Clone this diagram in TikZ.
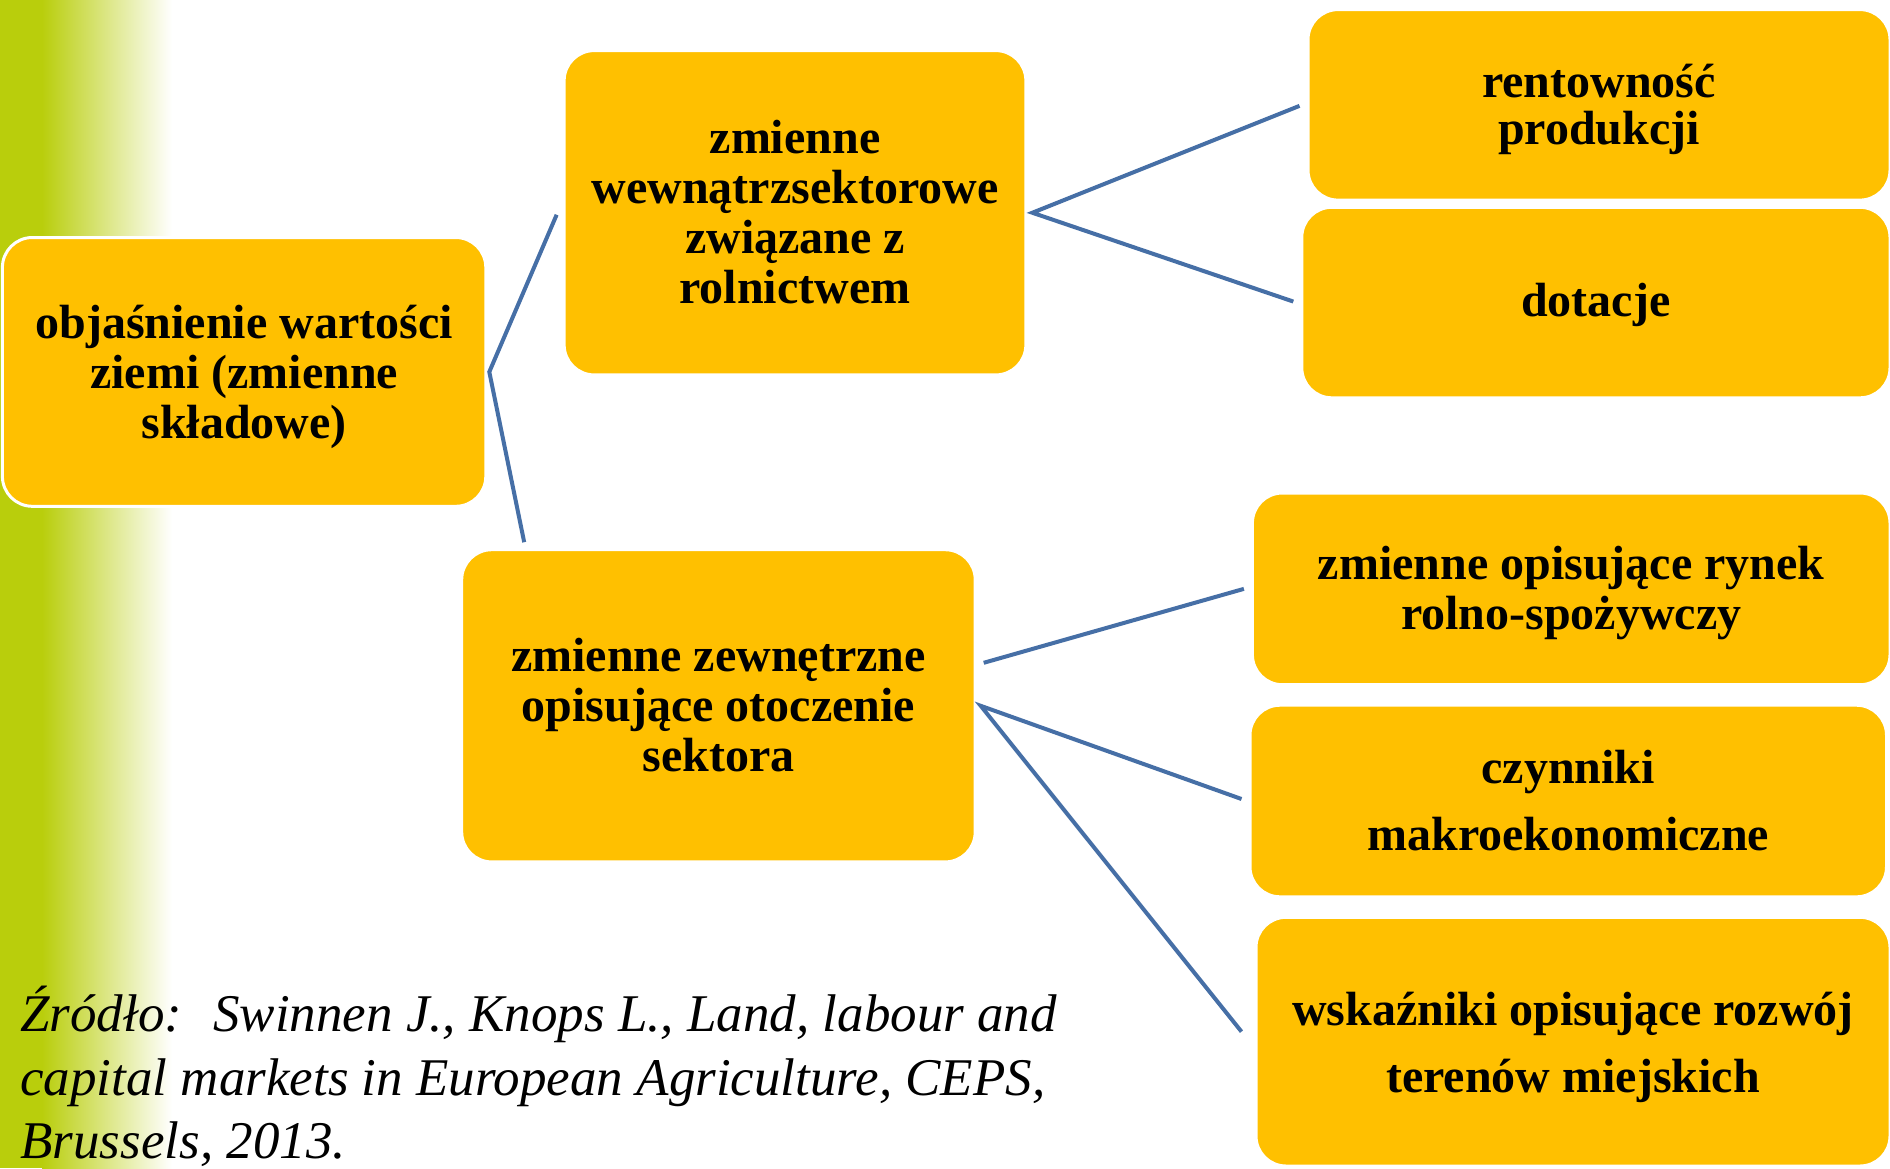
\documentclass[tikz,border=0pt]{standalone}
\usepackage{fontspec}
\setmainfont{Liberation Serif}
\usetikzlibrary{calc}
\definecolor{gold}{RGB}{255,192,0}
\definecolor{leaf}{RGB}{185,206,12}
\definecolor{conn}{RGB}{70,111,166}
\begin{document}
\begin{tikzpicture}[x=0.5pt,y=-0.5pt,
  card/.style={draw=white, line width=1.5pt, fill=gold, rounded corners=15pt, inner sep=0pt},
  cardtext/.style={inner sep=0pt, align=center, font=\bfseries\fontsize{24}{25}\selectfont},
  link/.style={draw=conn, line width=2pt, line join=miter},
  srctext/.style={anchor=base west, inner sep=0pt, font=\itshape\fontsize{26.5}{32}\selectfont}]
\useasboundingbox (0,0) rectangle (1890,1168);
\fill[white] (0,0) rectangle (1890,1168);
\fill[leaf] (0,0) rectangle (42,1168);
\shade[left color=leaf, right color=white] (42,0) rectangle (172,1168);

% boxes
\node[card, minimum width=241.7pt, minimum height=134.4pt] (root) at (244.1,371.9) {};
\node[card, minimum width=230.85pt, minimum height=162.15pt] (b2) at (795,212.75) {};
\node[card, minimum width=291pt, minimum height=95.25pt] (b3) at (1599,104.85) {};
\node[card, minimum width=294.1pt, minimum height=95.25pt] (b4) at (1595.9,302.55) {};
\node[card, minimum width=256.75pt, minimum height=156.1pt] (b5) at (718.45,705.8) {};
\node[card, minimum width=318.8pt, minimum height=95.85pt] (b6) at (1571.2,588.85) {};
\node[card, minimum width=318.25pt, minimum height=95.8pt] (b7) at (1568.25,801) {};
\node[card, minimum width=317pt, minimum height=124.35pt] (b8) at (1573,1041.65) {};

% texts
\node[cardtext] (roott) at ($(root)+(0,5)$) {objaśnienie wartości\\ziemi (zmienne\\składowe)};
\node[cardtext] (b2t) at ($(b2)+(0,-1)$) {zmienne\\wewnątrzsektorowe\\związane z\\rolnictwem};
\node[cardtext, font=\bfseries\fontsize{24}{23.5}\selectfont] (b3t) at ($(b3)+(0,5)$) {rentowność\\produkcji};
\node[cardtext] (b4t) at ($(b4)+(0,2)$) {dotacje};
\node[cardtext] (b5t) at ($(b5)+(0,-1)$) {zmienne zewnętrzne\\opisujące otoczenie\\sektora};
\node[cardtext] (b6t) at ($(b6)+(0,4)$) {zmienne opisujące rynek\\rolno-spożywczy};
\node[cardtext, font=\bfseries\fontsize{24}{33.5}\selectfont] (b7t) at ($(b7)+(0,0)$) {czynniki\\makroekonomiczne};
\node[cardtext, font=\bfseries\fontsize{24}{33.5}\selectfont] (b8t) at ($(b8)+(0,6)$) {wskaźniki opisujące rozwój\\terenów miejskich};

% connector ends
\coordinate (rootR) at ($(root.east)+(2,0)$);
\coordinate (b2L) at ($(b2.west)+(-6,2)$);
\coordinate (b5T) at ($(b5.north west)+(64,-6)$);
\coordinate (b2R) at ($(b2.east)+(5,0)$);
\coordinate (b3L) at ($(b3.west)+(-7,1)$);
\coordinate (b4L) at ($(b4.west)+(-7,-1)$);
\coordinate (b5Ra) at ($(b5.east)+(7,-43)$);
\coordinate (b5Rb) at ($(b5.east)+(4,0)$);
\coordinate (b6L) at ($(b6.west)+(-7,0)$);
\coordinate (b7L) at ($(b7.west)+(-7,-2)$);
\coordinate (b8L) at ($(b8.west)+(-13,-10)$);

\draw[link] (b2L) -- (rootR) -- (b5T);
\draw[link] (b3L) -- (b2R) -- (b4L);
\draw[link] (b5Ra) -- (b6L);
\draw[link] (b7L) -- (b5Rb) -- (b8L);

\node[srctext] (src1) at (20,1031) {Źródło:~ Swinnen J., Knops L., Land, labour and};
\node[srctext] (src2) at (20,1095) {capital markets in European Agriculture, CEPS,};
\node[srctext] (src3) at (20,1158) {Brussels, 2013.};
\end{tikzpicture}
\end{document}
